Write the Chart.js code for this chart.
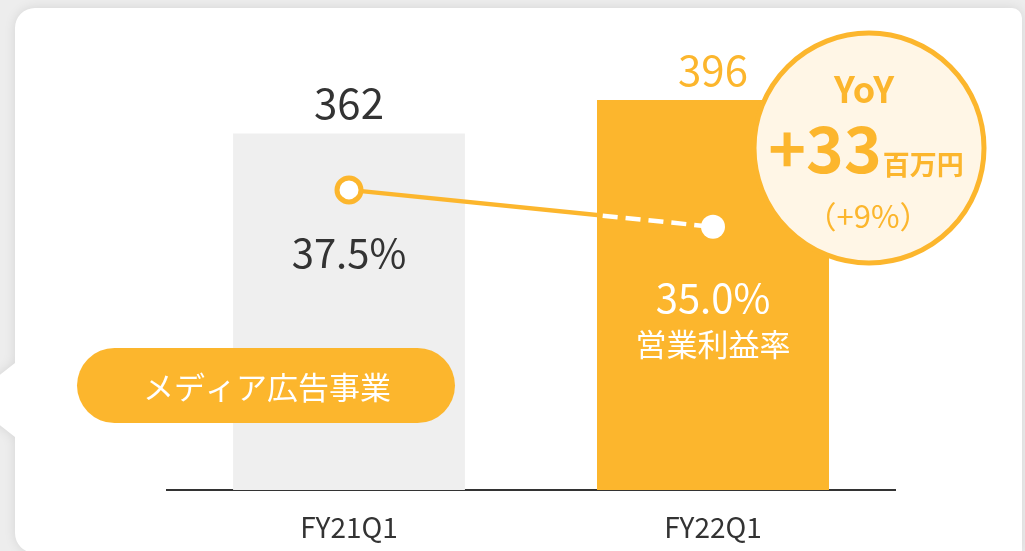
<!DOCTYPE html>
<html>
<head>
<meta charset="utf-8">
<script src="https://cdn.jsdelivr.net/npm/chart.js@4.4.0/dist/chart.umd.min.js"></script>
<style>
    html, body { margin: 0; padding: 0; background: #ededed; }
    #wrap { width: 1025px; height: 551px; }
</style>
</head>
<body>
<div id="wrap"><canvas id="salesChart" width="1025" height="551"></canvas></div>
<script>
const categories = ['FY21Q1', 'FY22Q1'];
const revenue = [362, 396];
const marginPct = [37.5, 35.0];
const marginLabels = ['37.5%', '35.0%'];
const segmentName = 'メディア広告事業';
const marginName = '営業利益率';
const yoyTitle = 'YoY';
const yoyAmount = '+33';
const yoyUnit = '百万円';
const yoyRate = '（+9%）';

const ORANGE = '#fcb62d';
const GRAY_BAR = '#efefef';
const DARK = '#333333';
const FONT = '"Noto Sans CJK JP", "Noto Sans", sans-serif';

document.addEventListener('DOMContentLoaded', function () {
    const ctx = document.getElementById('salesChart').getContext('2d');

    // white card with the little pointer on the left
    const cardBackground = {
        id: 'cardBackground',
        beforeDraw(chart) {
            const c = chart.ctx;
            c.save();
            c.fillStyle = '#ededed';
            c.fillRect(0, 0, chart.width, chart.height);
            c.shadowColor = 'rgba(0,0,0,0.10)';
            c.shadowBlur = 12;
            c.fillStyle = '#ffffff';
            const l = 15, t = 8, r = 1022, b = 553, rad = 20, rr = 10;
            c.beginPath();
            c.moveTo(l + rad, t);
            c.lineTo(r - rr, t);
            c.arcTo(r, t, r, t + rr, rr);
            c.lineTo(r, b);
            c.lineTo(l + rad, b);
            c.arcTo(l, b, l, b - rad, rad);
            c.lineTo(l, 437);
            c.lineTo(-32, 400);
            c.lineTo(l, 363);
            c.lineTo(l, t + rad);
            c.arcTo(l, t, l + rad, t, rad);
            c.closePath();
            c.fill();
            c.restore();
        }
    };

    // labels, dashed part of the line, pill and YoY badge
    const overlays = {
        id: 'overlays',
        afterDatasetsDraw(chart) {
            const c = chart.ctx;
            const bars = chart.getDatasetMeta(0).data;
            const pts = chart.getDatasetMeta(1).data;
            c.save();

            // white dashed line over the orange bar
            const bar = bars[1];
            const left = bar.x - bar.width / 2;
            c.save();
            c.beginPath();
            c.rect(left, bar.y, bar.width, bar.base - bar.y);
            c.clip();
            c.fillStyle = ORANGE;
            c.fillRect(left, bar.y, bar.width, bar.base - bar.y);
            c.strokeStyle = '#ffffff';
            c.lineWidth = 4.5;
            c.setLineDash([15, 8]);
            c.lineDashOffset = -2;
            c.beginPath();
            c.moveTo(pts[0].x, pts[0].y);
            c.lineTo(pts[1].x, pts[1].y);
            c.stroke();
            c.restore();
            pts[1].draw(c, chart.chartArea);

            // values above bars
            c.textAlign = 'center';
            c.textBaseline = 'middle';
            c.font = '400 42px ' + FONT;
            bars.forEach((b, i) => {
                c.fillStyle = i === 0 ? DARK : ORANGE;
                c.fillText(String(revenue[i]), b.x, b.y - 30);
            });

            // margin labels
            c.font = '400 40px ' + FONT;
            c.fillStyle = DARK;
            c.fillText(marginLabels[0], pts[0].x, pts[0].y + 63);
            c.fillStyle = '#ffffff';
            c.fillText(marginLabels[1], pts[1].x, pts[1].y + 71);
            c.font = '400 31px ' + FONT;
            c.fillText(marginName, pts[1].x, pts[1].y + 117);

            // segment pill
            c.fillStyle = ORANGE;
            c.beginPath();
            c.roundRect(77, 348, 378, 75, 37.5);
            c.fill();
            c.fillStyle = '#ffffff';
            c.font = '400 31px ' + FONT;
            c.fillText(segmentName, 267, 387);

            // YoY badge
            c.beginPath();
            c.arc(869, 148, 115, 0, Math.PI * 2);
            c.fillStyle = '#fff6e6';
            c.fill();
            c.lineWidth = 5;
            c.strokeStyle = ORANGE;
            c.stroke();

            c.fillStyle = ORANGE;
            c.font = '700 36px ' + FONT;
            c.fillText(yoyTitle, 864, 89);

            c.textAlign = 'left';
            c.textBaseline = 'alphabetic';
            c.font = '700 64px ' + FONT;
            const wBig = c.measureText(yoyAmount).width;
            c.font = '700 27px ' + FONT;
            const wUnit = c.measureText(yoyUnit).width;
            const startX = 866 - (wBig + 1 + wUnit) / 2;
            c.font = '700 64px ' + FONT;
            c.fillText(yoyAmount, startX, 173);
            c.font = '700 27px ' + FONT;
            c.fillText(yoyUnit, startX + wBig + 1, 175);

            c.textAlign = 'center';
            c.textBaseline = 'middle';
            c.font = '400 31px ' + FONT;
            c.fillText(yoyRate, 868, 216);

            c.restore();
        }
    };

    new Chart(ctx, {
        type: 'bar',
        data: {
            labels: categories,
            datasets: [{
                type: 'bar',
                label: 'Revenue',
                data: revenue,
                backgroundColor: [GRAY_BAR, ORANGE],
                borderWidth: 0,
                categoryPercentage: 1,
                barPercentage: 0.637,
                yAxisID: 'y',
                order: 2
            }, {
                type: 'line',
                label: marginName,
                data: marginPct,
                borderColor: ORANGE,
                borderWidth: 4.5,
                pointRadius: [12, 12],
                pointBorderWidth: [5, 0],
                pointBackgroundColor: '#ffffff',
                pointBorderColor: [ORANGE, '#ffffff'],
                yAxisID: 'y2',
                order: 1
            }]
        },
        options: {
            responsive: false,
            animation: false,
            layout: {
                padding: { left: 167, right: 130, top: 96, bottom: 0 }
            },
            plugins: {
                legend: { display: false },
                tooltip: { enabled: false }
            },
            scales: {
                x: {
                    grid: { display: false, drawTicks: false },
                    border: { display: true, color: DARK, width: 2 },
                    ticks: {
                        color: DARK,
                        padding: 26,
                        font: { family: FONT, size: 28, lineHeight: 0.8 }
                    },
                    // fixed axis height so the baseline sits where it does in the slide
                    afterFit(scale) {
                        scale.height = 61;
                    }
                },
                y: {
                    display: false,
                    min: 0,
                    max: 400
                },
                y2: {
                    display: false,
                    min: 17.2,
                    max: 43.85
                }
            }
        },
        plugins: [cardBackground, overlays]
    });
});
</script>
</body>
</html>
